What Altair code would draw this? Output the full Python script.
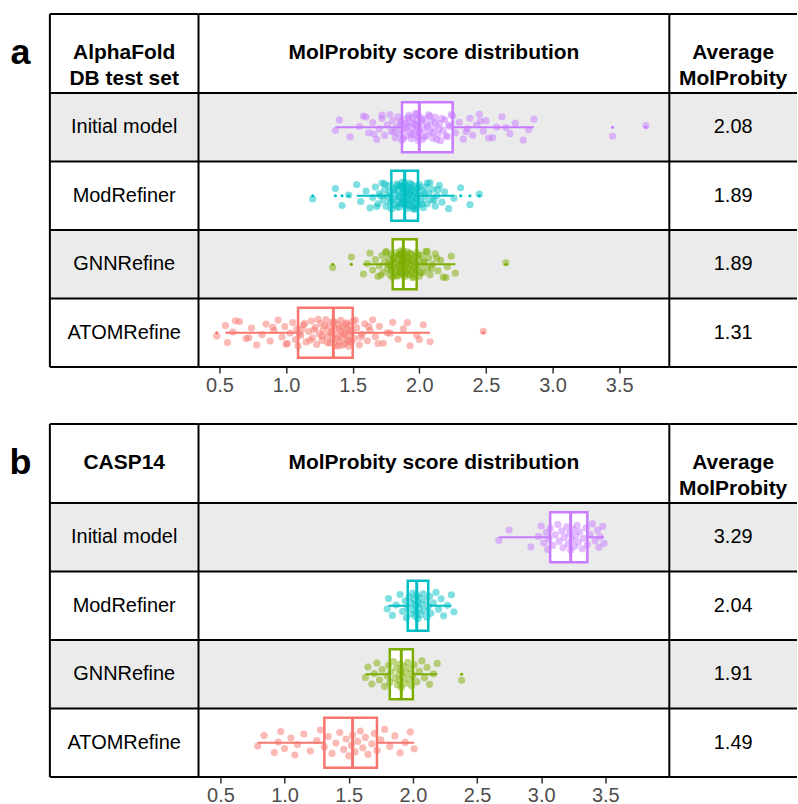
import altair as alt
import pandas as pd

FONT = "Liberation Sans"

methods = ["Initial model", "ModRefiner", "GNNRefine", "ATOMRefine"]
colors = ["#C77CFF", "#00BFC4", "#7CAE00", "#F8766D"]
tick_values = [0.5, 1.0, 1.5, 2.0, 2.5, 3.0, 3.5]

# ---------------- panel a : AlphaFold DB test set ----------------
avg_a = ["2.08", "1.89", "1.89", "1.31"]
q1_a = [1.87, 1.79, 1.80, 1.09]
med_a = [2.00, 1.89, 1.88, 1.355]
q3_a = [2.25, 1.99, 1.98, 1.50]
lo_a = [1.37, 1.53, 1.58, 0.545]
hi_a = [2.86, 2.26, 2.27, 2.08]
outliers_init_a = [3.45, 3.70]
outliers_mod_a = [1.20, 1.37, 1.42, 1.47, 2.31, 2.38, 2.45]
outliers_gnn_a = [1.35, 1.49, 2.65]
outliers_atom_a = [0.48, 2.48]

init_a = [1.37, 1.40, 1.48, 1.55, 1.58, 1.62, 1.65, 1.68, 1.70, 1.72, 1.74, 1.76, 1.78, 1.79, 1.80, 1.82, 1.83, 1.84, 1.85, 1.86,
          1.87, 1.88, 1.89, 1.90, 1.91, 1.92, 1.93, 1.93, 1.94, 1.95, 1.95, 1.96, 1.97, 1.97, 1.98, 1.98, 1.99, 1.99, 2.00, 2.00,
          2.01, 2.02, 2.03, 2.04, 2.05, 2.06, 2.07, 2.08, 2.09, 2.10, 2.11, 2.12, 2.14, 2.15, 2.16, 2.18, 2.19, 2.21, 2.23, 2.25,
          2.27, 2.30, 2.33, 2.36, 2.38, 2.40, 2.43, 2.45, 2.48, 2.50, 2.55, 2.58, 2.62, 2.68, 2.72, 2.78, 2.82, 2.86, 3.45, 3.70,
          1.72, 1.81, 1.86, 1.88, 1.90, 1.92, 1.94, 1.96, 1.98, 2.00, 2.02, 2.04, 2.06, 2.08, 2.10, 2.12, 2.13, 2.15, 2.17, 2.20,
          2.22, 2.24, 2.35, 2.46, 2.52, 2.65, 1.60, 1.66, 1.90, 1.99]
mod_a = [1.20, 1.37, 1.42, 1.47, 1.53, 1.56, 1.60, 1.63, 1.65, 1.67, 1.69, 1.70, 1.72, 1.73, 1.74, 1.75, 1.76, 1.77, 1.78, 1.78,
         1.79, 1.80, 1.81, 1.82, 1.82, 1.83, 1.84, 1.84, 1.85, 1.85, 1.86, 1.86, 1.87, 1.87, 1.88, 1.88, 1.89, 1.89, 1.89, 1.90,
         1.90, 1.91, 1.91, 1.92, 1.92, 1.93, 1.93, 1.94, 1.94, 1.95, 1.95, 1.96, 1.96, 1.97, 1.97, 1.98, 1.98, 1.99, 1.99, 2.00,
         2.01, 2.02, 2.03, 2.04, 2.05, 2.06, 2.07, 2.08, 2.09, 2.10, 2.12, 2.13, 2.15, 2.17, 2.19, 2.22, 2.26, 2.31, 2.38, 2.45,
         1.74, 1.79, 1.81, 1.83, 1.85, 1.86, 1.87, 1.88, 1.89, 1.90, 1.91, 1.92, 1.93, 1.94, 1.95, 1.96, 1.97, 1.98, 2.00, 2.02,
         2.04, 2.06, 2.11, 2.14, 1.68, 1.71, 1.84, 1.88, 1.92, 1.95]
gnn_a = [1.35, 1.49, 1.58, 1.61, 1.63, 1.65, 1.67, 1.69, 1.70, 1.72, 1.73, 1.74, 1.75, 1.76, 1.77, 1.78, 1.78, 1.79, 1.79, 1.80,
         1.80, 1.81, 1.81, 1.82, 1.82, 1.83, 1.83, 1.84, 1.84, 1.85, 1.85, 1.85, 1.86, 1.86, 1.86, 1.87, 1.87, 1.87, 1.88, 1.88,
         1.88, 1.89, 1.89, 1.90, 1.90, 1.91, 1.91, 1.92, 1.92, 1.93, 1.93, 1.94, 1.94, 1.95, 1.95, 1.96, 1.96, 1.97, 1.97, 1.98,
         1.98, 1.99, 2.00, 2.01, 2.02, 2.03, 2.04, 2.05, 2.06, 2.07, 2.08, 2.10, 2.12, 2.14, 2.16, 2.18, 2.21, 2.24, 2.27, 2.65,
         1.75, 1.79, 1.81, 1.83, 1.84, 1.85, 1.86, 1.87, 1.88, 1.89, 1.90, 1.91, 1.92, 1.93, 1.94, 1.95, 1.96, 1.97, 1.99, 2.01,
         2.03, 2.06, 2.09, 2.13, 1.71, 1.77, 1.86, 1.89, 1.92, 2.20]
atom_a = [0.48, 0.545, 0.56, 0.60, 0.65, 0.70, 0.74, 0.78, 0.82, 0.85, 0.88, 0.91, 0.94, 0.97, 0.99, 1.01, 1.03, 1.05, 1.07, 1.08,
          1.09, 1.11, 1.13, 1.15, 1.17, 1.19, 1.20, 1.22, 1.23, 1.25, 1.26, 1.27, 1.28, 1.30, 1.31, 1.32, 1.33, 1.34, 1.35, 1.35,
          1.36, 1.37, 1.38, 1.39, 1.40, 1.41, 1.41, 1.42, 1.43, 1.44, 1.44, 1.45, 1.46, 1.46, 1.47, 1.47, 1.48, 1.49, 1.49, 1.50,
          1.51, 1.53, 1.55, 1.57, 1.59, 1.61, 1.63, 1.65, 1.67, 1.70, 1.73, 1.76, 1.80, 1.84, 1.88, 1.93, 1.98, 2.03, 2.08, 2.48,
          0.62, 0.72, 0.90, 1.00, 1.10, 1.14, 1.18, 1.21, 1.24, 1.27, 1.29, 1.31, 1.33, 1.36, 1.38, 1.40, 1.42, 1.43, 1.45, 1.47,
          1.48, 1.52, 1.56, 1.62, 1.69, 1.78, 1.91, 2.00, 1.12, 1.39]

# ---------------- panel b : CASP14 ----------------
avg_b = ["3.29", "2.04", "1.91", "1.49"]
q1_b = [3.07, 1.96, 1.82, 1.31]
med_b = [3.23, 2.03, 1.91, 1.53]
q3_b = [3.36, 2.12, 2.00, 1.72]
lo_b = [2.67, 1.81, 1.63, 0.79]
hi_b = [3.49, 2.30, 2.19, 2.01]
outliers_init_b = []
outliers_mod_b = []
outliers_gnn_b = [2.38]
outliers_atom_b = []

init_b = [2.67, 2.75, 2.92, 2.98, 3.00, 3.02, 3.04, 3.05, 3.06, 3.07, 3.09, 3.11, 3.13, 3.14, 3.16, 3.17, 3.18, 3.20, 3.21, 3.22,
          3.23, 3.24, 3.25, 3.26, 3.27, 3.28, 3.29, 3.30, 3.32, 3.33, 3.35, 3.36, 3.38, 3.40, 3.42, 3.44, 3.45, 3.46, 3.48, 3.49]
mod_b = [1.80, 1.81, 1.84, 1.87, 1.90, 1.92, 1.94, 1.95, 1.96, 1.97, 1.98, 1.99, 2.00, 2.01, 2.01, 2.02, 2.02, 2.03, 2.03, 2.04,
         2.04, 2.05, 2.05, 2.06, 2.07, 2.08, 2.09, 2.10, 2.11, 2.12, 2.13, 2.14, 2.16, 2.18, 2.20, 2.22, 2.24, 2.27, 2.30, 2.32]
gnn_b = [1.63, 1.65, 1.68, 1.70, 1.72, 1.74, 1.76, 1.78, 1.80, 1.81, 1.82, 1.83, 1.85, 1.86, 1.87, 1.88, 1.89, 1.90, 1.90, 1.91,
         1.91, 1.92, 1.93, 1.94, 1.95, 1.96, 1.97, 1.98, 1.99, 2.00, 2.01, 2.03, 2.05, 2.07, 2.09, 2.11, 2.13, 2.16, 2.19, 2.38]
atom_b = [0.79, 0.84, 0.92, 0.95, 0.97, 1.00, 1.05, 1.08, 1.10, 1.15, 1.20, 1.25, 1.28, 1.31, 1.34, 1.37, 1.40, 1.43, 1.46, 1.48,
          1.50, 1.52, 1.53, 1.55, 1.57, 1.59, 1.61, 1.63, 1.65, 1.68, 1.70, 1.72, 1.75, 1.78, 1.82, 1.86, 1.90, 1.94, 1.98, 2.01]

# ---------------- layout ----------------
H = 1.153          # header height in row units
PANEL_H = 354
W0, W1, W2, W3 = 44, 149, 472, 128
GRAY = "#EBEBEB"
NOVIEW = alt.ViewBackground(stroke="transparent", strokeWidth=0, fill="transparent")

yscale = alt.Scale(domain=[-H, 4], reverse=True, nice=False, zero=False)
cscale = alt.Scale(domain=methods, range=colors)
AX = alt.Axis(values=tick_values, format=".1f", title=None, grid=False, domain=False,
              ticks=True, tickSize=6, tickColor="#333333", tickWidth=1.5,
              labelFontSize=20, labelColor="#4D4D4D", labelFont=FONT, labelPadding=2)


def rows_frame(avgs, q1, med, q3, lo, hi):
    return pd.DataFrame({
        "method": methods, "row": [0, 1, 2, 3], "avg": avgs,
        "q1": q1, "med": med, "q3": q3, "lo": lo, "hi": hi,
        "bg": [GRAY, "white", GRAY, "white"],
    })


def bg_layer(rows):
    return alt.Chart(rows).transform_calculate(r2="datum.row + 1").mark_rect().encode(
        x=alt.value(0), x2=alt.value("width"),
        y=alt.Y("row:Q", scale=yscale, axis=None), y2="r2:Q",
        color=alt.Color("bg:N", scale=None))


def line_layers(with_left=True):
    hl = alt.Chart(pd.DataFrame({"pos": [-H, 0, 1, 2, 3, 4]})).mark_rule(
        color="black", strokeWidth=2).encode(y=alt.Y("pos:Q", scale=yscale, axis=None))
    layers = [hl]
    if with_left:
        layers.append(alt.Chart(pd.DataFrame({"k": [0]})).mark_rule(
            color="black", strokeWidth=2).encode(x=alt.value(0)))
    return layers


def header_text(lines):
    df = pd.DataFrame({"y": [-H / 2], "t": [lines]})
    return alt.Chart(df).mark_text(fontSize=21, fontWeight="bold", font=FONT,
                                   lineHeight=26, baseline="middle").encode(
        y=alt.Y("y:Q", scale=yscale, axis=None), text="t:N")


def make_panel(letter, header1, rows, pts, outs, xdom):
    xscale = alt.Scale(domain=xdom, nice=False, zero=False)

    # letter column
    c0 = alt.Chart(pd.DataFrame({"y": [-H / 2], "t": [letter]})).mark_text(
        fontSize=36, fontWeight="bold", font=FONT, baseline="middle").encode(
        x=alt.value(14.5), y=alt.Y("y:Q", scale=yscale, axis=None), text="t:N"
    ).properties(width=W0, height=PANEL_H, view=NOVIEW)

    # label column
    lab = alt.Chart(rows).transform_calculate(ym="datum.row + 0.5").mark_text(
        fontSize=20, font=FONT, baseline="middle").encode(
        y=alt.Y("ym:Q", scale=yscale, axis=None), text="method:N")
    c1 = alt.layer(bg_layer(rows), lab, header_text(header1), *line_layers()).properties(
        width=W1, height=PANEL_H, view=NOVIEW)

    # distribution column
    base = alt.Chart(rows).transform_calculate(
        ym="datum.row + 0.5", yb0="datum.row + 0.5 - 0.365", yb1="datum.row + 0.5 + 0.365")
    whisk = base.mark_rule(strokeWidth=2).encode(
        x=alt.X("lo:Q", scale=xscale, axis=AX), x2="hi:Q",
        y=alt.Y("ym:Q", scale=yscale, axis=None),
        color=alt.Color("method:N", scale=cscale, legend=None))
    box = base.mark_rect(fill="white", strokeWidth=2.5).encode(
        x=alt.X("q1:Q", scale=xscale, axis=AX), x2="q3:Q",
        y=alt.Y("yb0:Q", scale=yscale, axis=None), y2="yb1:Q",
        stroke=alt.Stroke("method:N", scale=cscale, legend=None))
    medl = base.mark_rule(strokeWidth=3).encode(
        x=alt.X("med:Q", scale=xscale, axis=AX),
        y=alt.Y("yb0:Q", scale=yscale, axis=None), y2="yb1:Q",
        color=alt.Color("method:N", scale=cscale, legend=None))
    pts_layer = alt.Chart(pts).transform_window(
        rn="row_number()", groupby=["method"]).transform_calculate(
        yy="datum.row + 0.5 + ((datum.rn * 0.618034) % 1 - 0.5) * 0.4").mark_circle(
        size=52, opacity=0.5).encode(
        x=alt.X("value:Q", scale=xscale, axis=AX),
        y=alt.Y("yy:Q", scale=yscale, axis=None),
        color=alt.Color("method:N", scale=cscale, legend=None))
    layers2 = [bg_layer(rows), whisk, box, medl, pts_layer]
    if len(outs):
        out_layer = alt.Chart(outs).transform_calculate(ym="datum.row + 0.5").mark_circle(
            size=10, opacity=1).encode(
            x=alt.X("value:Q", scale=xscale, axis=AX),
            y=alt.Y("ym:Q", scale=yscale, axis=None),
            color=alt.Color("method:N", scale=cscale, legend=None))
        layers2.append(out_layer)
    layers2.append(header_text("MolProbity score distribution"))
    layers2.extend(line_layers())
    c2 = alt.layer(*layers2).properties(width=W2, height=PANEL_H, view=NOVIEW)

    # average column
    av = alt.Chart(rows).transform_calculate(ym="datum.row + 0.5").mark_text(
        fontSize=20, font=FONT, baseline="middle").encode(
        y=alt.Y("ym:Q", scale=yscale, axis=None), text="avg:N")
    c3 = alt.layer(bg_layer(rows), av, header_text(["Average", "MolProbity"]),
                   *line_layers()).properties(width=W3, height=PANEL_H, view=NOVIEW)

    return alt.hconcat(c0, c1, c2, c3, spacing=0, bounds="flush")


def points_frame(groups):
    recs = []
    for i, (m, vals) in enumerate(zip(methods, groups)):
        for v in vals:
            recs.append({"method": m, "row": i, "value": v})
    return pd.DataFrame(recs, columns=["method", "row", "value"])


rows_a = rows_frame(avg_a, q1_a, med_a, q3_a, lo_a, hi_a)
rows_b = rows_frame(avg_b, q1_b, med_b, q3_b, lo_b, hi_b)
pts_a = points_frame([init_a, mod_a, gnn_a, atom_a])
pts_b = points_frame([init_b, mod_b, gnn_b, atom_b])
outs_a = points_frame([outliers_init_a, outliers_mod_a, outliers_gnn_a, outliers_atom_a])
outs_b = points_frame([outliers_init_b, outliers_mod_b, outliers_gnn_b, outliers_atom_b])

panel_a = make_panel("a", ["AlphaFold", "DB test set"], rows_a, pts_a, outs_a, [0.3428, 3.876])
panel_b = make_panel("b", "CASP14", rows_b, pts_b, outs_b, [0.329, 3.999])

chart = alt.vconcat(panel_a, panel_b, spacing=28).properties(
    padding={"left": 6, "top": 12, "right": 0, "bottom": 0}
).configure_view(strokeWidth=0, stroke="transparent").configure(background="white")

chart.save("out.html", embed_options={"renderer": "svg", "actions": False})
